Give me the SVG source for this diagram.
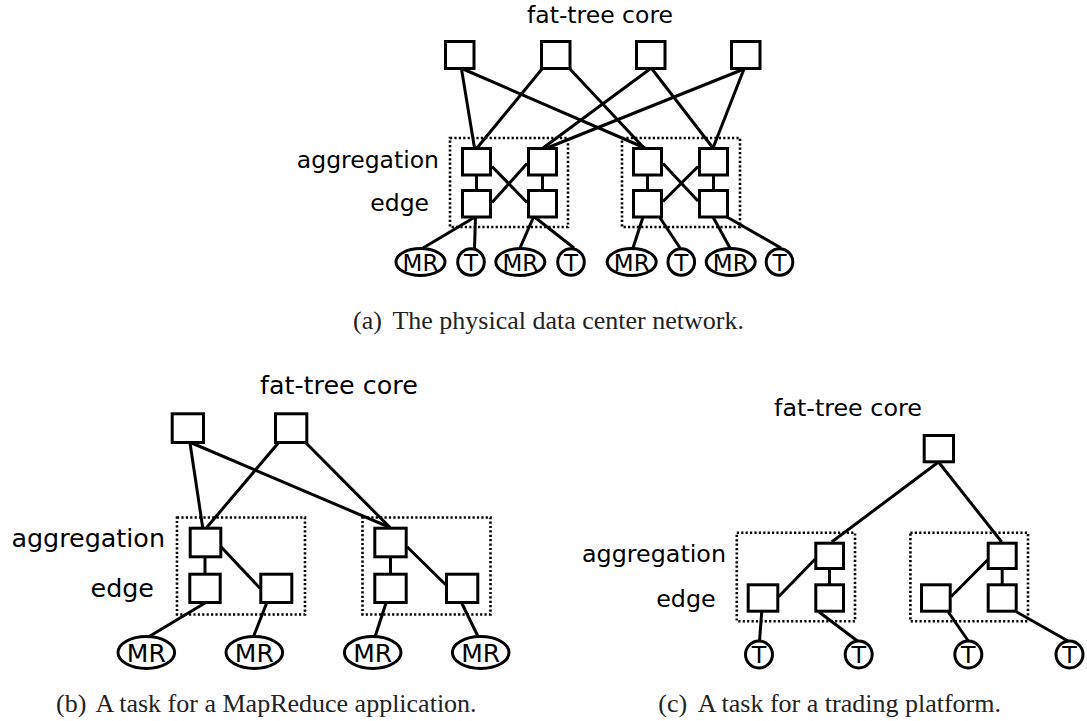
<svg xmlns="http://www.w3.org/2000/svg" width="1087" height="721" viewBox="0 0 1087 721">
  <style>
    .sw { fill: #fff; stroke: #000; stroke-width: 3; }
    .host { fill: #fff; stroke: #000; stroke-width: 3; }
    .pod { fill: none; stroke: #000; stroke-width: 2.6; stroke-dasharray: 2.2 2.2; }
    .link { stroke: #000; stroke-width: 3; fill: none; stroke-linecap: butt; }
    .lbl { font-family: "DejaVu Sans", sans-serif; fill: #000; }
    .hl { font-family: "DejaVu Sans", sans-serif; fill: #000; text-anchor: middle; }
    .cap { font-family: "Liberation Serif", "Times New Roman", serif; font-size: 26px; fill: #222; }
  </style>

  <!-- ===================== (a) physical network ===================== -->
  <g id="a-labels">
    <text class="lbl" x="527" y="23" font-size="23.5">fat-tree core</text>
    <text class="lbl" x="439" y="168" font-size="23.5" text-anchor="end">aggregation</text>
    <text class="lbl" x="429" y="211" font-size="23.5" text-anchor="end">edge</text>
  </g>
  <g id="a-pods">
    <rect class="pod" x="450" y="138" width="118" height="89"/>
    <rect class="pod" x="622" y="138" width="118" height="89"/>
  </g>
  <g id="a-links">
    <line class="link" x1="461.5" y1="69" x2="474.5" y2="148"/>
    <line class="link" x1="463" y1="69" x2="645" y2="148"/>
    <line class="link" x1="542" y1="69" x2="477" y2="148"/>
    <line class="link" x1="570" y1="69" x2="644" y2="148"/>
    <line class="link" x1="650" y1="69" x2="543" y2="148"/>
    <line class="link" x1="652" y1="69" x2="713" y2="148"/>
    <line class="link" x1="744" y1="69" x2="547" y2="148"/>
    <line class="link" x1="744" y1="69" x2="713" y2="148"/>
    <line class="link" x1="476.5" y1="176" x2="476.5" y2="190"/>
    <line class="link" x1="542.5" y1="176" x2="542.5" y2="190"/>
    <line class="link" x1="492" y1="166.5" x2="527" y2="202.5"/>
    <line class="link" x1="492" y1="202.5" x2="527" y2="163.5"/>
    <line class="link" x1="647.5" y1="176" x2="647.5" y2="190"/>
    <line class="link" x1="713.5" y1="176" x2="713.5" y2="190"/>
    <line class="link" x1="663" y1="163.5" x2="698" y2="201"/>
    <line class="link" x1="663" y1="201.5" x2="698" y2="166.5"/>
    <line class="link" x1="475" y1="217" x2="423" y2="248"/>
    <line class="link" x1="475.5" y1="217" x2="474.5" y2="248"/>
    <line class="link" x1="533.5" y1="217" x2="520" y2="248"/>
    <line class="link" x1="534.5" y1="217" x2="574" y2="248"/>
    <line class="link" x1="643" y1="217" x2="633" y2="248"/>
    <line class="link" x1="659.5" y1="217" x2="680" y2="248"/>
    <line class="link" x1="713" y1="217" x2="730" y2="248"/>
    <line class="link" x1="727" y1="217" x2="781" y2="248"/>
  </g>
  <g id="a-core">
    <rect class="sw" x="445.5" y="41.5" width="28.5" height="27"/>
    <rect class="sw" x="541.5" y="41.5" width="28.5" height="27"/>
    <rect class="sw" x="636.5" y="41.5" width="28.5" height="27"/>
    <rect class="sw" x="731.5" y="41.5" width="28.5" height="27"/>
  </g>
  <g id="a-switches">
    <rect class="sw" x="462.5" y="148.5" width="28" height="26.5"/>
    <rect class="sw" x="528.5" y="148.5" width="28" height="26.5"/>
    <rect class="sw" x="462.5" y="190.5" width="28" height="26.5"/>
    <rect class="sw" x="528.5" y="190.5" width="28" height="26.5"/>
    <rect class="sw" x="633.5" y="148.5" width="28" height="26.5"/>
    <rect class="sw" x="699.5" y="148.5" width="28" height="26.5"/>
    <rect class="sw" x="633.5" y="190.5" width="28" height="26.5"/>
    <rect class="sw" x="699.5" y="190.5" width="28" height="26.5"/>
  </g>
  <g id="a-hosts">
    <ellipse class="host" cx="420.5" cy="262" rx="24.5" ry="13.5"/>
    <text class="hl" x="420.5" y="270.5" font-size="23">MR</text>
    <circle class="host" cx="471" cy="262" r="13.3"/>
    <text class="hl" x="471" y="270.5" font-size="23">T</text>
    <ellipse class="host" cx="520.3" cy="262" rx="24.5" ry="13.5"/>
    <text class="hl" x="520.3" y="270.5" font-size="23">MR</text>
    <circle class="host" cx="571" cy="262" r="13.3"/>
    <text class="hl" x="571" y="270.5" font-size="23">T</text>
    <ellipse class="host" cx="631.7" cy="262" rx="24.5" ry="13.5"/>
    <text class="hl" x="631.7" y="270.5" font-size="23">MR</text>
    <circle class="host" cx="681.3" cy="262" r="13.3"/>
    <text class="hl" x="681.3" y="270.5" font-size="23">T</text>
    <ellipse class="host" cx="730.7" cy="262" rx="24.5" ry="13.5"/>
    <text class="hl" x="730.7" y="270.5" font-size="23">MR</text>
    <circle class="host" cx="779.5" cy="262" r="13.3"/>
    <text class="hl" x="779.5" y="270.5" font-size="23">T</text>
  </g>
  <text class="cap" y="329"><tspan x="353">(a)</tspan><tspan x="392.4">The physical data center network.</tspan></text>

  <!-- ===================== (b) MapReduce task ===================== -->
  <g id="b-labels">
    <text class="lbl" x="260" y="394" font-size="25.4">fat-tree core</text>
    <text class="lbl" x="165" y="547" font-size="25.4" text-anchor="end">aggregation</text>
    <text class="lbl" x="154" y="597" font-size="25.4" text-anchor="end">edge</text>
  </g>
  <g id="b-pods">
    <rect class="pod" x="177" y="517.5" width="128" height="97"/>
    <rect class="pod" x="362.5" y="517.5" width="128" height="97"/>
  </g>
  <g id="b-links">
    <line class="link" x1="190" y1="443" x2="202.7" y2="527.5"/>
    <line class="link" x1="191.7" y1="443" x2="390" y2="527.5"/>
    <line class="link" x1="278.3" y1="443" x2="206.7" y2="527.5"/>
    <line class="link" x1="306" y1="443" x2="390" y2="527.5"/>
    <line class="link" x1="205" y1="558" x2="205" y2="573"/>
    <line class="link" x1="221" y1="546.7" x2="260" y2="588.3"/>
    <line class="link" x1="390.5" y1="558" x2="390.5" y2="573"/>
    <line class="link" x1="407" y1="546.7" x2="446" y2="585"/>
    <line class="link" x1="205" y1="603" x2="148.3" y2="637"/>
    <line class="link" x1="266.7" y1="603" x2="253.3" y2="637"/>
    <line class="link" x1="386" y1="603" x2="375" y2="637"/>
    <line class="link" x1="461.7" y1="603" x2="478.3" y2="637"/>
  </g>
  <g id="b-core">
    <rect class="sw" x="172.2" y="413.8" width="31.3" height="28.7"/>
    <rect class="sw" x="275.5" y="413.8" width="31.3" height="28.7"/>
  </g>
  <g id="b-switches">
    <rect class="sw" x="190.2" y="528.2" width="30.6" height="28.6"/>
    <rect class="sw" x="189.8" y="574.2" width="30.4" height="28.3"/>
    <rect class="sw" x="260.8" y="574.2" width="31" height="28.3"/>
    <rect class="sw" x="374.8" y="528.2" width="31.4" height="28.6"/>
    <rect class="sw" x="374.8" y="574.2" width="31.4" height="28.3"/>
    <rect class="sw" x="446.5" y="574.2" width="31.3" height="28.3"/>
  </g>
  <g id="b-hosts">
    <ellipse class="host" cx="146.3" cy="652.5" rx="28.3" ry="16"/>
    <text class="hl" x="146.3" y="661.5" font-size="25">MR</text>
    <ellipse class="host" cx="254.3" cy="652.5" rx="28.3" ry="16"/>
    <text class="hl" x="254.3" y="661.5" font-size="25">MR</text>
    <ellipse class="host" cx="372.7" cy="652.5" rx="28.3" ry="16"/>
    <text class="hl" x="372.7" y="661.5" font-size="25">MR</text>
    <ellipse class="host" cx="480.7" cy="652.5" rx="28.3" ry="16"/>
    <text class="hl" x="480.7" y="661.5" font-size="25">MR</text>
  </g>
  <text class="cap" y="711.5"><tspan x="56">(b)</tspan><tspan x="95.4">A task for a MapReduce application.</tspan></text>

  <!-- ===================== (c) trading task ===================== -->
  <g id="c-labels">
    <text class="lbl" x="774" y="416" font-size="23.8">fat-tree core</text>
    <text class="lbl" x="726" y="561.7" font-size="23.8" text-anchor="end">aggregation</text>
    <text class="lbl" x="715.7" y="606.7" font-size="23.8" text-anchor="end">edge</text>
  </g>
  <g id="c-pods">
    <rect class="pod" x="736.8" y="532.8" width="118.2" height="88.5"/>
    <rect class="pod" x="910.4" y="532.8" width="117.6" height="88.5"/>
  </g>
  <g id="c-links">
    <line class="link" x1="938.5" y1="462" x2="831.7" y2="542"/>
    <line class="link" x1="938.5" y1="462" x2="1001.7" y2="542"/>
    <line class="link" x1="829.5" y1="569" x2="829.5" y2="584"/>
    <line class="link" x1="778.5" y1="596.7" x2="815" y2="559.3"/>
    <line class="link" x1="1002.2" y1="569" x2="1002.2" y2="584"/>
    <line class="link" x1="987.5" y1="560" x2="951" y2="596.7"/>
    <line class="link" x1="761.7" y1="612" x2="759.5" y2="641"/>
    <line class="link" x1="819" y1="612" x2="857.5" y2="641"/>
    <line class="link" x1="948.3" y1="612" x2="968.3" y2="641"/>
    <line class="link" x1="1016.7" y1="612" x2="1068" y2="641"/>
  </g>
  <g id="c-core">
    <rect class="sw" x="924.2" y="435.5" width="29.3" height="26.3"/>
  </g>
  <g id="c-switches">
    <rect class="sw" x="815.8" y="543.2" width="27.7" height="25.3"/>
    <rect class="sw" x="748.2" y="584.8" width="29.6" height="26.4"/>
    <rect class="sw" x="815.8" y="584.8" width="27.7" height="26.4"/>
    <rect class="sw" x="988.2" y="543.2" width="28" height="25.3"/>
    <rect class="sw" x="921.5" y="584.8" width="28.7" height="26.4"/>
    <rect class="sw" x="988.2" y="584.8" width="28" height="26.4"/>
  </g>
  <g id="c-hosts">
    <circle class="host" cx="759" cy="654.5" r="13.5"/>
    <text class="hl" x="759" y="663" font-size="23.8">T</text>
    <circle class="host" cx="858.7" cy="654.5" r="13.5"/>
    <text class="hl" x="858.7" y="663" font-size="23.8">T</text>
    <circle class="host" cx="968.3" cy="654.5" r="13.5"/>
    <text class="hl" x="968.3" y="663" font-size="23.8">T</text>
    <circle class="host" cx="1069.5" cy="654.5" r="13.5"/>
    <text class="hl" x="1069.5" y="663" font-size="23.8">T</text>
  </g>
  <text class="cap" y="711.5"><tspan x="658.3">(c)</tspan><tspan x="697.7">A task for a trading platform.</tspan></text>
</svg>
